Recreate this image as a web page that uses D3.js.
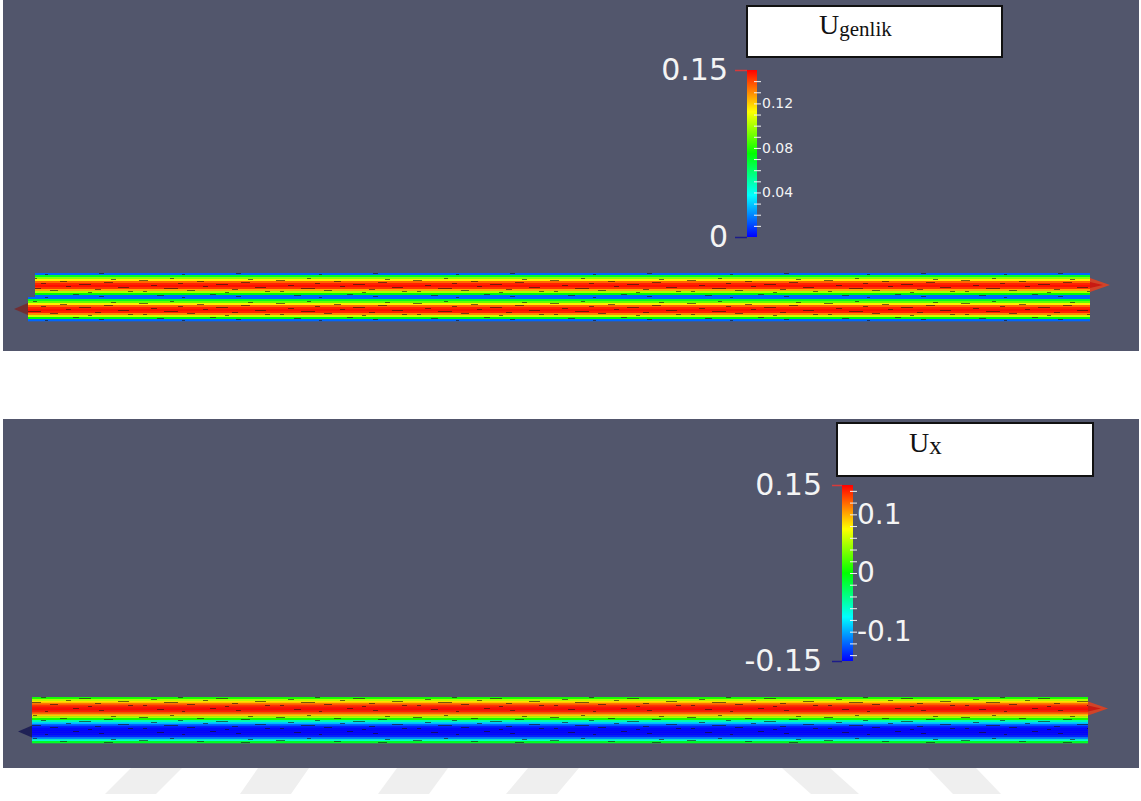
<!DOCTYPE html>
<html>
<head>
<meta charset="utf-8">
<script src="https://cdn.jsdelivr.net/npm/d3@7"></script>
<style>
  body { margin: 0; background: #ffffff; }
  svg { display: block; }
</style>
</head>
<body>
<div id="chart"></div>
<script>
// ---- data ----
const ugenlikTitle = ["U", "genlik"];
const uxTitle = ["U", "x"];

const ugenlikRange = [0, 0.15];
const ugenlikLabels = [0.04, 0.08, 0.12];
const ugenlikMinor = [0.01, 0.02, 0.03, 0.04, 0.05, 0.06, 0.07, 0.08, 0.09, 0.10, 0.11, 0.12, 0.13, 0.14];

const uxRange = [-0.15, 0.15];
const uxLabels = [-0.1, 0, 0.1];
const uxMinor = [-0.14, -0.12, -0.10, -0.08, -0.06, -0.04, -0.02, 0, 0.02, 0.04, 0.06, 0.08, 0.10, 0.12, 0.14];

// velocity across each pipe, wall to wall (top to bottom)
const ugenlikUpperPipe = [0.015, 0.07, 0.095, 0.115, 0.135, 0.145, 0.148, 0.142, 0.125, 0.10, 0.075, 0.015];
const ugenlikLowerPipe = [0.015, 0.07, 0.09, 0.115, 0.135, 0.145, 0.148, 0.145, 0.13, 0.105, 0.075, 0.015];
const uxUpperPipe = [0.005, 0.05, 0.085, 0.115, 0.135, 0.145, 0.148, 0.14, 0.12, 0.09, 0.05, 0.005];
const uxLowerPipe = [-0.05, -0.09, -0.12, -0.14, -0.148, -0.15, -0.15, -0.148, -0.14, -0.11, -0.06, -0.01];

// ---- page ----
const W = 1141, H = 801;
const svg = d3.select("#chart")
    .append("svg")
    .attr("width", W)
    .attr("height", H);

const bg = "#52566c";
const rainbow = d3.interpolateHslLong("hsl(240,100%,50%)", "hsl(0,100%,50%)");

// speckle texture (glyph noise on the pipes)
const defs = svg.append("defs");
const speck = defs.append("pattern")
    .attr("id", "speck")
    .attr("patternUnits", "userSpaceOnUse")
    .attr("width", 137)
    .attr("height", 23);
[[2, 4, 9], [14, 9, 6], [27, 12, 14], [41, 7, 5], [50, 14, 8], [60, 5, 7], [33, 2, 4], [6, 15, 4],
 [66, 10, 5], [79, 8, 12], [95, 13, 6], [104, 6, 9], [118, 11, 11], [128, 15, 5], [88, 16, 4],
 [73, 18, 6], [111, 3, 5], [20, 19, 7], [45, 21, 3], [99, 20, 5]]
    .forEach(function (s) {
        speck.append("line")
            .attr("x1", s[0]).attr("x2", s[0] + s[2])
            .attr("y1", s[1] + 0.5).attr("y2", s[1] + 0.5)
            .attr("stroke", "#1a1010")
            .attr("stroke-width", 1)
            .attr("stroke-opacity", 0.6);
    });

// watermark slants below the panels
const wm = svg.append("g").attr("fill", "#efefef");
[[131, 105], [258, 240], [397, 378], [528, 506]].forEach(function (s) {
    wm.append("polygon")
        .attr("points", [[s[0], 768], [s[0] + 51, 768], [s[1] + 51, 794], [s[1], 794]].join(" "));
});
[[782, 811], [928, 953]].forEach(function (s) {
    wm.append("polygon")
        .attr("points", [[s[0], 768], [s[0] + 48, 768], [s[1] + 48, 794], [s[1], 794]].join(" "));
});

function drawPanel(p) {
    const g = svg.append("g");

    // dark background of the render view
    g.append("rect")
        .attr("x", 3).attr("y", p.top)
        .attr("width", 1136).attr("height", p.height)
        .attr("fill", bg);

    const color = d3.scaleSequential(rainbow).domain(p.range);

    // pipes, drawn as bands across the section
    p.pipes.forEach(function (pipe) {
        const y = d3.scaleBand()
            .domain(d3.range(pipe.values.length))
            .range([pipe.y0, pipe.y1]);
        const x = d3.scaleLinear().domain([0, 1]).range([pipe.x0, pipe.x1]);

        g.append("g")
            .selectAll("rect")
            .data(pipe.values)
            .enter()
            .append("rect")
            .attr("x", x(0))
            .attr("y", function (d, i) { return y(i); })
            .attr("width", x(1) - x(0))
            .attr("height", y.bandwidth() + 0.3)
            .attr("fill", function (d) { return color(d); });

        g.append("rect")
            .attr("x", x(0)).attr("y", pipe.y0)
            .attr("width", x(1) - x(0)).attr("height", pipe.y1 - pipe.y0)
            .attr("fill", "url(#speck)");

        // arrow glyphs poking out at the outlet
        const mid = (pipe.y0 + pipe.y1) / 2;
        if (pipe.outlet === "right") {
            g.append("polygon")
                .attr("points", [[x(1), mid - 7], [x(1) + 20, mid], [x(1), mid + 7]].join(" "))
                .attr("fill", "#e8401c").attr("opacity", 0.85);
            g.append("polygon")
                .attr("points", [[x(1), mid - 3], [x(1) + 13, mid], [x(1), mid + 3]].join(" "))
                .attr("fill", "#c81a12");
        } else {
            g.append("polygon")
                .attr("points", [[x(0), mid - 6], [x(0) - 14, mid], [x(0), mid + 6]].join(" "))
                .attr("fill", pipe.glyph).attr("opacity", 0.8);
        }
    });

    // colour bar
    const cb = p.bar;
    const grad = defs.append("linearGradient")
        .attr("id", "grad" + p.id)
        .attr("x1", 0).attr("y1", 1).attr("x2", 0).attr("y2", 0);
    d3.range(0, 1.0001, 0.05).forEach(function (t) {
        grad.append("stop")
            .attr("offset", t)
            .attr("stop-color", rainbow(t));
    });
    g.append("rect")
        .attr("x", cb.x).attr("y", cb.y0)
        .attr("width", cb.w).attr("height", cb.y1 - cb.y0)
        .attr("fill", "url(#grad" + p.id + ")");

    const yBar = d3.scaleLinear().domain(p.range).range([cb.y1, cb.y0]);

    // minor ticks
    const minor = g.append("g")
        .attr("transform", "translate(" + (cb.x + cb.w - 3) + ",0)")
        .call(d3.axisRight(yBar).tickValues(p.minor).tickSize(7).tickFormat(""));
    minor.select(".domain").remove();
    minor.selectAll(".tick line").attr("stroke", "#f2f2f2").attr("stroke-width", 1);

    // inner labels
    const lab = g.append("g")
        .attr("transform", "translate(" + (cb.x + cb.w) + ",0)")
        .call(d3.axisRight(yBar).tickValues(p.labels).tickSize(0).tickPadding(p.labelPad)
            .tickFormat(function (d) { return String(d); }));
    lab.select(".domain").remove();
    lab.selectAll("text")
        .attr("fill", "#f4f4f4")
        .style("font-family", "DejaVu Sans")
        .style("font-size", p.labelSize + "px");

    // range end labels
    const ends = g.append("g")
        .attr("transform", "translate(" + cb.x + ",0)")
        .call(d3.axisLeft(yBar).tickValues(p.range).tickSize(p.endTick).tickPadding(p.endPad)
            .tickFormat(function (d) { return String(d); }));
    ends.select(".domain").remove();
    ends.selectAll(".tick line")
        .attr("stroke", function (d) { return d === p.range[1] ? "#d83a3a" : "#1c1c8a"; })
        .attr("stroke-width", 1.5);
    ends.selectAll("text")
        .attr("fill", "#f4f4f4")
        .style("font-family", "DejaVu Sans")
        .style("font-size", "30px");

    // title box
    const t = p.title;
    g.append("rect")
        .attr("x", t.x).attr("y", t.y)
        .attr("width", t.w).attr("height", t.h)
        .attr("fill", "#ffffff")
        .attr("stroke", "#111111")
        .attr("stroke-width", 2);
    const txt = g.append("text")
        .attr("x", t.tx).attr("y", t.ty)
        .attr("fill", "#111111")
        .style("font-family", "Liberation Serif");
    txt.append("tspan").style("font-size", t.size + "px").text(t.text[0]);
    txt.append("tspan").attr("dy", t.subDy).style("font-size", t.subSize + "px").text(t.text[1]);
}

drawPanel({
    id: 1, top: 0, height: 351,
    range: ugenlikRange, labels: ugenlikLabels, minor: ugenlikMinor,
    labelSize: 14, labelPad: 5, endTick: 12, endPad: 7,
    bar: { x: 747, w: 10, y0: 70, y1: 237 },
    title: { x: 747, y: 6, w: 255, h: 51, tx: 819, ty: 34, size: 28, subSize: 21, subDy: 2, text: ugenlikTitle },
    pipes: [
        { values: ugenlikUpperPipe, x0: 35, x1: 1090, y0: 273, y1: 297, outlet: "right" },
        { values: ugenlikLowerPipe, x0: 28, x1: 1090, y0: 297, y1: 321, outlet: "left", glyph: "#7a2424" }
    ]
});

drawPanel({
    id: 2, top: 419, height: 349,
    range: uxRange, labels: uxLabels, minor: uxMinor,
    labelSize: 28, labelPad: 4, endTick: 10, endPad: 10,
    bar: { x: 842, w: 11, y0: 485, y1: 661 },
    title: { x: 837, y: 423, w: 256, h: 53, tx: 909, ty: 452, size: 28, subSize: 25, subDy: 2, text: uxTitle },
    pipes: [
        { values: uxUpperPipe, x0: 32, x1: 1088, y0: 697, y1: 720, outlet: "right" },
        { values: uxLowerPipe, x0: 32, x1: 1088, y0: 720, y1: 743, outlet: "left", glyph: "#141450" }
    ]
});
</script>
</body>
</html>
